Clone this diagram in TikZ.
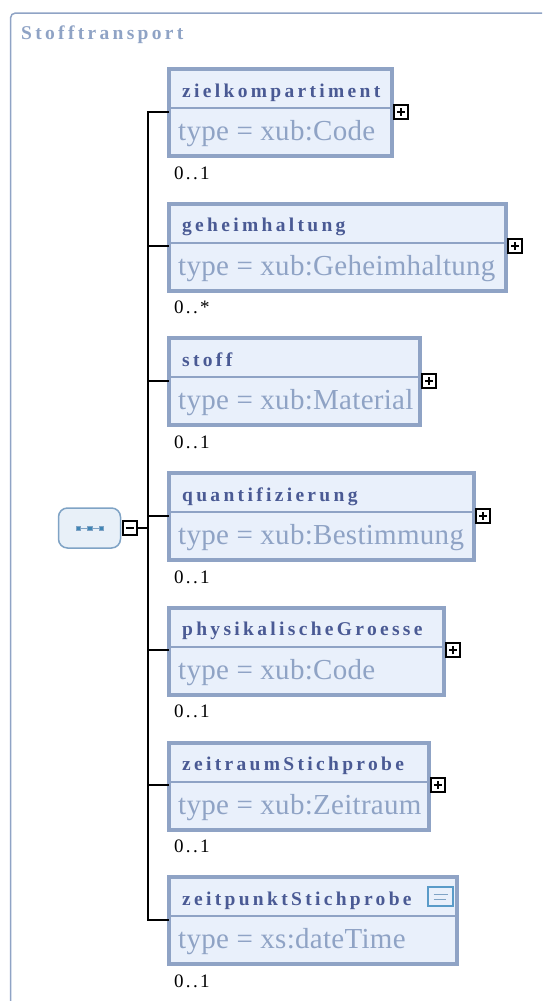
\documentclass[tikz,border=0pt]{standalone}
\usepackage{fontspec}
\setmainfont{Liberation Serif}
\newfontfamily\spacedfont[LetterSpace=17]{Liberation Serif}
\usetikzlibrary{positioning}
\definecolor{framecol}{HTML}{8FA3C5}
\definecolor{boxfill}{HTML}{E9F0FB}
\definecolor{titlecol}{HTML}{4A5A94}
\definecolor{seqfill}{HTML}{E8F0F8}
\definecolor{seqline}{HTML}{7FA3C5}
\definecolor{dotcol}{HTML}{3F86B5}
\definecolor{notecol}{HTML}{5A9BC8}
\tikzset{
    elembox/.style = {draw=framecol, fill=boxfill, line width=4pt, outer sep=0pt, inner sep=0pt, anchor=north west, minimum height=87pt},
    elemtitle/.style = {text=titlecol, font=\fontsize{19.5}{22}\spacedfont\bfseries, anchor=base west, inner sep=0pt},
    elemtype/.style = {text=framecol, font=\fontsize{29}{32}\selectfont\addfontfeature{LetterSpace=1}, anchor=base west, inner sep=0pt},
    card/.style = {text=black, font=\fontsize{19}{22}\selectfont\addfontfeature{LetterSpace=12}, anchor=base west, inner sep=0pt},
    divider/.style = {draw=framecol, line width=2pt},
    conn/.style = {draw=black, line width=2pt},
    toggle/.style = {draw=black, fill=white, line width=2pt, minimum size=14pt, inner sep=0pt, outer sep=0pt},
    plusbox/.style = {toggle, path picture={\draw[line width=2pt] ([xshift=-4pt]path picture bounding box.center) -- ([xshift=4pt]path picture bounding box.center); \draw[line width=2pt] ([yshift=-4pt]path picture bounding box.center) -- ([yshift=4pt]path picture bounding box.center);}},
    minusbox/.style = {toggle, path picture={\draw[line width=2pt] ([xshift=-4pt]path picture bounding box.center) -- ([xshift=4pt]path picture bounding box.center);}},
    seqdot/.style = {draw=seqline, fill=dotcol, line width=.3pt, minimum size=4.5pt, inner sep=0pt, outer sep=0pt},
}
\begin{document}
\begin{tikzpicture}[x=1pt, y=1pt]
    \useasboundingbox (0,0) rectangle (542,-1001);
    % outer frame
    \draw[framecol, line width=1.5pt, rounded corners=5pt] (10.5,-1001) -- (10.5,-13) -- (542,-13);
    \node[elemtitle, text=framecol] (frametitle) at (21,-39) {Stofftransport};
    % elements
    \node[elembox, minimum width=223pt] (ziel) at (169,-69) {};
    \node[elembox, minimum width=337pt, below=47.7pt of ziel.south west, anchor=north west] (geheim) {};
    \node[elembox, minimum width=251pt, below=47.7pt of geheim.south west, anchor=north west] (stoff) {};
    \node[elembox, minimum width=305pt, below=47.7pt of stoff.south west, anchor=north west] (quant) {};
    \node[elembox, minimum width=275pt, below=47.7pt of quant.south west, anchor=north west] (phys) {};
    \node[elembox, minimum width=260pt, below=47.7pt of phys.south west, anchor=north west] (zeitraum) {};
    \node[elembox, minimum width=288pt, below=47.7pt of zeitraum.south west, anchor=north west] (zeitpunkt) {};
    % dividers
    \draw[divider] ([yshift=-39pt]ziel.north west) -- ([yshift=-39pt]ziel.north east);
    \draw[divider] ([yshift=-39pt]geheim.north west) -- ([yshift=-39pt]geheim.north east);
    \draw[divider] ([yshift=-39pt]stoff.north west) -- ([yshift=-39pt]stoff.north east);
    \draw[divider] ([yshift=-39pt]quant.north west) -- ([yshift=-39pt]quant.north east);
    \draw[divider] ([yshift=-39pt]phys.north west) -- ([yshift=-39pt]phys.north east);
    \draw[divider] ([yshift=-39pt]zeitraum.north west) -- ([yshift=-39pt]zeitraum.north east);
    \draw[divider] ([yshift=-39pt]zeitpunkt.north west) -- ([yshift=-39pt]zeitpunkt.north east);
    % titles
    \node[elemtitle] (zieltitle) at ([shift={(13,-28)}]ziel.north west) {zielkompartiment};
    \node[elemtitle] (geheimtitle) at ([shift={(13,-28)}]geheim.north west) {geheimhaltung};
    \node[elemtitle] (stofftitle) at ([shift={(13,-28)}]stoff.north west) {stoff};
    \node[elemtitle] (quanttitle) at ([shift={(13,-28)}]quant.north west) {quantifizierung};
    \node[elemtitle] (phystitle) at ([shift={(13,-28)}]phys.north west) {physikalischeGroesse};
    \node[elemtitle] (zeitraumtitle) at ([shift={(13,-28)}]zeitraum.north west) {zeitraumStichprobe};
    \node[elemtitle] (zeitpunkttitle) at ([shift={(13,-28)}]zeitpunkt.north west) {zeitpunktStichprobe};
    % types
    \node[elemtype] (zieltype) at ([shift={(9,-71.5)}]ziel.north west) {type = xub:Code};
    \node[elemtype] (geheimtype) at ([shift={(9,-71.5)}]geheim.north west) {type = xub:Geheimhaltung};
    \node[elemtype] (stofftype) at ([shift={(9,-71.5)}]stoff.north west) {type = xub:Material};
    \node[elemtype] (quanttype) at ([shift={(9,-71.5)}]quant.north west) {type = xub:Bestimmung};
    \node[elemtype] (phystype) at ([shift={(9,-71.5)}]phys.north west) {type = xub:Code};
    \node[elemtype] (zeitraumtype) at ([shift={(9,-71.5)}]zeitraum.north west) {type = xub:Zeitraum};
    \node[elemtype] (zeitpunkttype) at ([shift={(9,-71.5)}]zeitpunkt.north west) {type = xs:dateTime};
    % cardinalities
    \node[card] (zielcard) at ([shift={(5,-23)}]ziel.south west) {0..1};
    \node[card] (geheimcard) at ([shift={(5,-23)}]geheim.south west) {0..*};
    \node[card] (stoffcard) at ([shift={(5,-23)}]stoff.south west) {0..1};
    \node[card] (quantcard) at ([shift={(5,-23)}]quant.south west) {0..1};
    \node[card] (physcard) at ([shift={(5,-23)}]phys.south west) {0..1};
    \node[card] (zeitraumcard) at ([shift={(5,-23)}]zeitraum.south west) {0..1};
    \node[card] (zeitpunktcard) at ([shift={(5,-23)}]zeitpunkt.south west) {0..1};
    % expand boxes
    \node[plusbox] (zielplus) at ([shift={(9,1)}]ziel.east) {};
    \node[plusbox] (geheimplus) at ([shift={(9,1)}]geheim.east) {};
    \node[plusbox] (stoffplus) at ([shift={(9,1)}]stoff.east) {};
    \node[plusbox] (quantplus) at ([shift={(9,1)}]quant.east) {};
    \node[plusbox] (physplus) at ([shift={(9,1)}]phys.east) {};
    \node[plusbox] (zeitraumplus) at ([shift={(9,1)}]zeitraum.east) {};
    % note icon
    \node[draw=notecol, fill=boxfill, line width=2pt, minimum width=25pt, minimum height=19pt, inner sep=0pt] (note) at ([shift={(-16.5,-19.5)}]zeitpunkt.north east) {};
    \draw[seqline, line width=1pt] ([shift={(-7,2.5)}]note.center) -- ([shift={(7,2.5)}]note.center);
    \draw[seqline, line width=1pt] ([shift={(-7,-2.5)}]note.center) -- ([shift={(5,-2.5)}]note.center);
    % sequence
    \node[draw=seqline, fill=seqfill, line width=1.5pt, rounded corners=9pt, minimum width=62pt, minimum height=40pt, inner sep=0pt] (seq) at (89.5,-528) {};
    \node[seqdot] (dot2) at (seq.center) {};
    \node[seqdot, left=7pt of dot2] (dot1) {};
    \node[seqdot, right=7pt of dot2] (dot3) {};
    \draw[seqline, line width=.6pt] (dot1) -- (dot2);
    \draw[seqline, line width=.6pt] (dot2) -- (dot3);
    \node[minusbox] (seqminus) at (129.5,-527.5) {};
    % connectors
    \coordinate (trunk) at (148,-528);
    \coordinate (zielport) at ([yshift=1pt]ziel.west);
    \coordinate (punktport) at ([yshift=1pt]zeitpunkt.west);
    \draw[conn] (seqminus.east |- trunk) -- (trunk);
    \draw[conn] (zielport) -- (zielport -| trunk) -- (punktport -| trunk) -- (punktport);
    \draw[conn] ([yshift=1pt]geheim.west) -- ([yshift=1pt]geheim.west -| trunk);
    \draw[conn] ([yshift=1pt]stoff.west) -- ([yshift=1pt]stoff.west -| trunk);
    \draw[conn] ([yshift=1pt]quant.west) -- ([yshift=1pt]quant.west -| trunk);
    \draw[conn] ([yshift=1pt]phys.west) -- ([yshift=1pt]phys.west -| trunk);
    \draw[conn] ([yshift=1pt]zeitraum.west) -- ([yshift=1pt]zeitraum.west -| trunk);
\end{tikzpicture}
\end{document}
